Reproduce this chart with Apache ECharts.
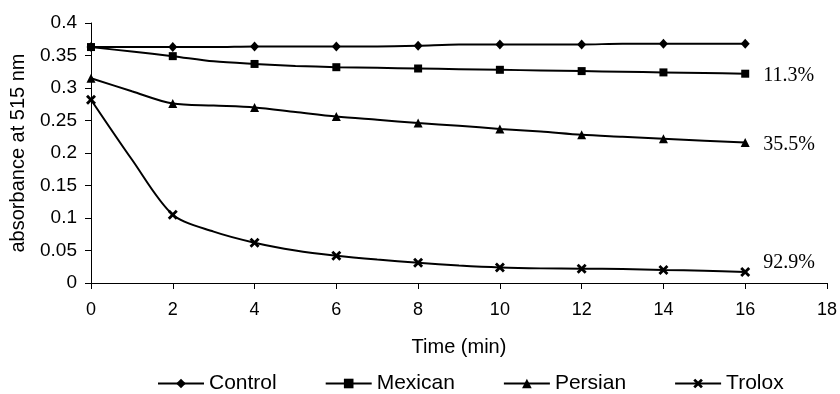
<!DOCTYPE html>
<html>
<head>
<meta charset="utf-8">
<script src="https://cdn.jsdelivr.net/npm/echarts@6/dist/echarts.min.js"></script>
<style>
  html, body { margin: 0; padding: 0; background: #fff; }
  #chart { width: 840px; height: 394px; }
</style>
</head>
<body>
<div id="chart"></div>
<script>
// time in minutes, one reading per minute
const time = [0, 1, 2, 3, 4, 5, 6, 7, 8, 9, 10, 11, 12, 13, 14, 15, 16];

const control = [0.363, 0.363, 0.363, 0.363, 0.364, 0.364, 0.364, 0.364, 0.365, 0.367, 0.367, 0.367, 0.367, 0.368, 0.368, 0.368, 0.368];
const mexican = [0.363, 0.356, 0.349, 0.341, 0.337, 0.334, 0.332, 0.331, 0.330, 0.329, 0.328, 0.327, 0.326, 0.325, 0.324, 0.323, 0.322];
const persian = [0.315, 0.295, 0.276, 0.273, 0.270, 0.263, 0.256, 0.251, 0.246, 0.242, 0.237, 0.233, 0.228, 0.225, 0.222, 0.219, 0.216];
const trolox  = [0.282, 0.190, 0.105, 0.079, 0.062, 0.050, 0.042, 0.036, 0.031, 0.027, 0.024, 0.0225, 0.022, 0.0215, 0.020, 0.019, 0.017];

const seriesNames = ['Control', 'Mexican', 'Persian', 'Trolox'];
// inhibition labels at the end of each curve ('' = none)
const endLabels = ['', '11.3%', '35.5%', '92.9%'];

// bold "x" marker
const xPath = 'path://M0,2L2,0L5,3L8,0L10,2L7,5L10,8L8,10L5,7L2,10L0,8L3,5Z';
const symbols = ['diamond', 'rect', 'triangle', xPath];
const symbolSizes = [[9, 10], 8, 9, 10];

const chart = echarts.init(document.getElementById('chart'));

const makeSeries = (name, values, i) => ({
  name: name,
  type: 'line',
  data: time.map((t, k) => [t, values[k]]),
  smooth: 0.3,
  symbol: symbols[i],
  symbolSize: (val) => (val[0] % 2 === 0 ? symbolSizes[i] : 0),
  showAllSymbol: true,
  lineStyle: { color: '#000', width: 2 },
  itemStyle: { color: '#000' },
  endLabel: {
    show: endLabels[i] !== '',
    formatter: endLabels[i],
    distance: 18,
    offset: i === 3 ? [0, -9] : [0, 2],
    color: '#000',
    fontFamily: 'Liberation Serif',
    fontSize: 20
  },
  emphasis: { disabled: true },
  animation: false
});

const option = {
  backgroundColor: '#ffffff',
  animation: false,
  grid: {
    left: 91,
    right: 13,
    top: 23,
    bottom: 111
  },
  legend: {
    data: seriesNames,
    left: 152,
    top: 368,
    itemWidth: 46,
    itemHeight: 12,
    itemGap: 48,
    lineStyle: { width: 2 },
    textStyle: {
      color: '#000',
      fontFamily: 'Liberation Sans',
      fontSize: 21
    }
  },
  xAxis: {
    type: 'value',
    min: 0,
    max: 18,
    interval: 2,
    name: 'Time (min)',
    nameLocation: 'middle',
    nameGap: 54,
    nameTextStyle: { color: '#000', fontFamily: 'Liberation Sans', fontSize: 20 },
    axisLine: { lineStyle: { color: '#000', width: 1 } },
    axisTick: { show: true, inside: false, length: 6, lineStyle: { color: '#000' } },
    axisLabel: { color: '#000', fontFamily: 'Liberation Sans', fontSize: 18, margin: 18 },
    splitLine: { show: false }
  },
  yAxis: {
    type: 'value',
    min: 0,
    max: 0.4,
    interval: 0.05,
    name: 'absorbance at 515 nm',
    nameLocation: 'middle',
    nameGap: 63,
    nameTextStyle: { color: '#000', fontFamily: 'Liberation Sans', fontSize: 20 },
    axisLine: { show: true, lineStyle: { color: '#000', width: 1 } },
    axisTick: { show: true, inside: false, length: 6, lineStyle: { color: '#000' } },
    axisLabel: {
      color: '#000',
      fontFamily: 'Liberation Sans',
      fontSize: 19,
      margin: 14,
      formatter: (v) => String(+v.toFixed(2))
    },
    splitLine: { show: false }
  },
  series: [
    makeSeries('Control', control, 0),
    makeSeries('Mexican', mexican, 1),
    makeSeries('Persian', persian, 2),
    makeSeries('Trolox', trolox, 3)
  ]
};

chart.setOption(option);
</script>
</body>
</html>
